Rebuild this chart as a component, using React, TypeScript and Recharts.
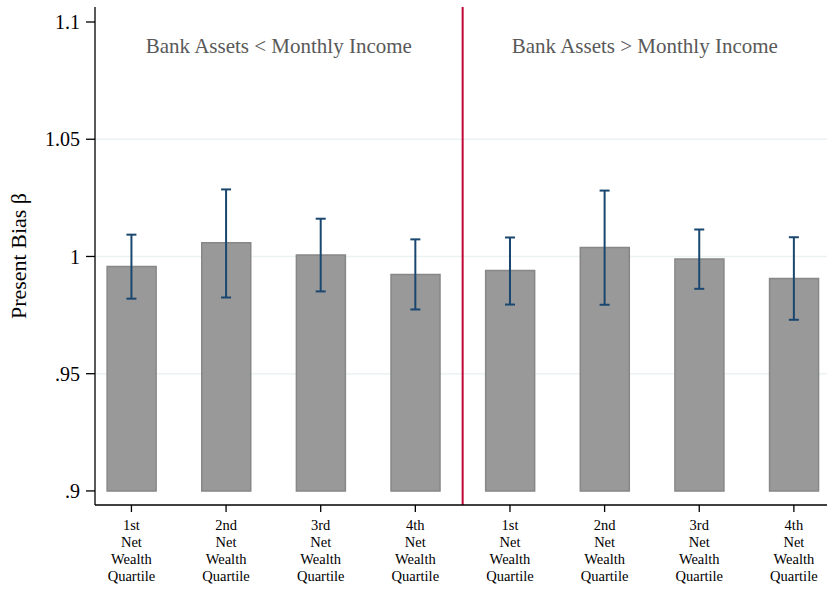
import {
  ComposedChart,
  Bar,
  Line,
  ErrorBar,
  XAxis,
  YAxis,
  CartesianGrid,
  ReferenceLine,
  ReferenceArea,
  Label,
} from "recharts";

const positions = [1, 2, 3, 4, 5, 6, 7, 8];
const quartiles = ["1st", "2nd", "3rd", "4th", "1st", "2nd", "3rd", "4th"];
const betas = [0.9957, 1.0058, 1.0006, 0.9923, 0.994, 1.0038, 0.9989, 0.9906];
const ciLow = [0.982, 0.9825, 0.9851, 0.9774, 0.9795, 0.9794, 0.9862, 0.973];
const ciHigh = [1.0093, 1.0286, 1.0161, 1.0073, 1.0081, 1.0281, 1.0115, 1.0082];
const yTicks = [0.9, 0.95, 1, 1.05, 1.1];
const gridValues = [0.95, 1, 1.05];
const groupTitles = ["Bank Assets < Monthly Income", "Bank Assets > Monthly Income"];

const BASE = 0.9;
const FONT = "'Liberation Serif', 'Times New Roman', serif";

const data = positions.map((p, i) => ({
  pos: p,
  range: [BASE, betas[i]],
  beta: betas[i],
  err: [betas[i] - ciLow[i], ciHigh[i] - betas[i]],
}));

const fmtY = (v: number) => {
  const s = String(Number(v.toFixed(2)));
  return s.startsWith("0.") ? s.slice(1) : s;
};

const XTick = (props: any) => {
  const { x, y, payload } = props;
  const idx = positions.indexOf(payload.value);
  const lines = [quartiles[idx], "Net", "Wealth", "Quartile"];
  return (
    <text x={x} y={y} textAnchor="middle" fontFamily={FONT} fontSize={14.5} fill="#000">
      {lines.map((l, i) => (
        <tspan key={i} x={x} dy={i === 0 ? 16 : 17}>
          {l}
        </tspan>
      ))}
    </text>
  );
};

const titleLabel = (value: string) => ({
  value,
  position: "insideTop" as const,
  offset: 31,
  fill: "#595959",
  fontSize: 21,
  fontFamily: FONT,
});

export default function App() {
  return (
    <div style={{ position: "absolute", left: 0, top: 0, background: "#fff" }}>
      <ComposedChart
        width={827}
        height={590}
        data={data}
        margin={{ top: 7, right: 0, bottom: 0, left: 0 }}
      >
        <CartesianGrid
          vertical={false}
          horizontalValues={gridValues}
          stroke="#eaf2f3"
          strokeWidth={1.5}
        />
        <XAxis
          dataKey="pos"
          type="number"
          domain={[0.615, 8.35]}
          ticks={positions}
          interval={0}
          tick={<XTick />}
          height={85}
          tickSize={7}
          tickMargin={2}
          axisLine={{ stroke: "#000", strokeWidth: 1.3 }}
          tickLine={{ stroke: "#000", strokeWidth: 1.3 }}
          allowDataOverflow
        />
        <YAxis
          type="number"
          domain={[0.894, 1.1064]}
          ticks={yTicks}
          tickFormatter={fmtY}
          width={95}
          tickSize={9}
          tickMargin={6}
          allowDataOverflow
          axisLine={{ stroke: "#000", strokeWidth: 1.3 }}
          tickLine={{ stroke: "#000", strokeWidth: 1.3 }}
          tick={{ fill: "#000", fontSize: 20, fontFamily: FONT }}
        >
          <Label
            value="Present Bias β"
            angle={-90}
            position="insideLeft"
            offset={18}
            style={{ textAnchor: "middle", fill: "#000", fontSize: 22, fontFamily: FONT }}
          />
        </YAxis>
        <ReferenceArea
          x1={0.615}
          x2={4.5}
          y1={0.894}
          y2={1.1064}
          fillOpacity={0}
          strokeOpacity={0}
          label={titleLabel(groupTitles[0])}
        />
        <ReferenceArea
          x1={4.5}
          x2={8.35}
          y1={0.894}
          y2={1.1064}
          fillOpacity={0}
          strokeOpacity={0}
          label={titleLabel(groupTitles[1])}
        />
        <ReferenceLine x={4.5} stroke="#c10534" strokeWidth={2} />
        <Bar
          dataKey="range"
          barSize={49}
          fill="#999999"
          stroke="#878787"
          strokeWidth={1.5}
          isAnimationActive={false}
        />
        <Line
          dataKey="beta"
          stroke="none"
          dot={false}
          activeDot={false}
          isAnimationActive={false}
        >
          <ErrorBar
            dataKey="err"
            direction="y"
            width={5}
            stroke="#1a476f"
            strokeWidth={2}
            isAnimationActive={false}
          />
        </Line>
      </ComposedChart>
    </div>
  );
}
